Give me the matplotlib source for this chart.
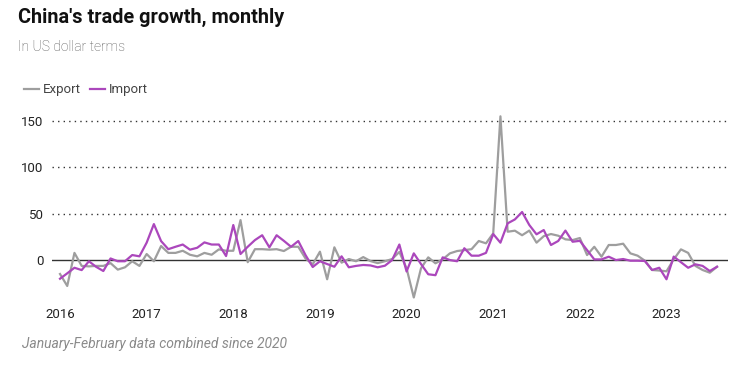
import matplotlib
matplotlib.use("Agg")
import matplotlib.pyplot as plt
import numpy as np

plt.rcParams['font.family'] = ['Roboto', 'DejaVu Sans']

# Monthly data, Jan 2016 - Aug 2023 (year-on-year growth, %)
years = ["2016", "2017", "2018", "2019", "2020", "2021", "2022", "2023"]
export = [
    -14.7, -27.6, 8.0, -6.0, -6.5, -6.0, -6.0, -3.0, -10.0, -7.5, -1.0, -6.0,   # 2016
    6.8, -1.0, 15.4, 8.0, 8.0, 10.3, 6.0, 4.3, 8.0, 6.0, 11.8, 10.3,           # 2017
    10.3, 43.3, -2.0, 12.0, 12.0, 11.5, 12.0, 10.0, 14.6, 14.6, 2.0, -4.3,     # 2018
    9.3, -20.4, 14.0, -2.5, 1.4, -1.0, 3.5, -0.8, -3.0, -1.0, 1.4, 9.0,        # 2019
    -8.6, -40.0, -8.6, 3.2, -3.2, 1.0, 7.5, 10.0, 11.0, 12.0, 20.8, 18.3,      # 2020
    29.0, 155.0, 30.8, 31.9, 27.0, 32.0, 19.0, 26.0, 28.3, 26.5, 22.6, 21.8,   # 2021
    24.0, 5.7, 14.6, 3.9, 16.5, 16.5, 17.9, 7.5, 5.0, -0.4, -10.4, -11.0,      # 2022
    -11.8, 1.0, 11.8, 8.0, -6.0, -10.4, -13.3, -6.9,                           # 2023
]
imports = [
    -19.8, -14.0, -8.0, -10.5, -1.0, -7.0, -11.5, 2.0, -1.0, -1.0, 5.7, 4.3,   # 2016
    19.0, 39.0, 20.7, 12.0, 14.6, 17.0, 11.5, 13.5, 19.3, 17.0, 17.0, 4.6,     # 2017
    38.0, 6.8, 14.6, 21.8, 27.0, 14.0, 27.0, 21.0, 14.6, 20.8, 5.7, -7.2,      # 2018
    -1.0, -4.0, -6.9, 4.3, -7.5, -6.0, -5.0, -5.5, -7.5, -5.8, 0.3, 17.0,      # 2019
    -12.0, 7.5, -4.0, -15.0, -16.0, 3.2, 0.3, -1.0, 13.0, 5.0, 5.0, 8.0,       # 2020
    28.3, 19.0, 39.8, 44.0, 52.0, 38.0, 28.0, 32.6, 16.5, 20.8, 32.0, 20.0,    # 2021
    21.0, 11.0, 1.0, 1.0, 3.9, 0.3, 1.4, -0.4, -0.4, -0.7, -10.4, -8.0,        # 2022
    -20.4, 4.0, -2.0, -8.0, -4.3, -6.0, -11.5, -6.9,                           # 2023
]
y_ticks = [0, 50, 100, 150]

W, H = 747, 371
fig = plt.figure(figsize=(W / 100, H / 100), dpi=100)
fig.patch.set_facecolor("white")

def fx(px):
    return px / W

def fy(py):
    return 1 - py / H

# axes: x 52..728 px, y 110..300 px
ax = fig.add_axes([fx(52), fy(300), fx(728) - fx(52), fy(110) - fy(300)])
ax.set_facecolor("white")

months = np.arange(len(export))
ax.plot(months, export, color="#9e9e9e", lw=1.6, solid_joinstyle="round", zorder=3)
ax.plot(months, imports, color="#ab47bc", lw=1.6, solid_joinstyle="round", zorder=4)

ax.set_xlim(-1.11, 92.52)
ax.set_ylim(-42.7, 161.8)

for v in y_ticks:
    if v == 0:
        ax.axhline(0, color="#333333", lw=1.0, zorder=2)
    else:
        ax.axhline(v, color="#333333", lw=1.0, linestyle=(0, (1, 3)), zorder=1)

ax.set_yticks(y_ticks)
ax.set_yticklabels([str(v) for v in y_ticks])
ax.set_xticks(np.arange(0, len(export), 12)[:len(years)])
ax.set_xticklabels(years)
ax.tick_params(axis="both", length=0, labelsize=9.5, labelcolor="#222222")
ax.tick_params(axis="y", pad=6)
ax.tick_params(axis="x", pad=6)
for s in ax.spines.values():
    s.set_visible(False)

# Title and texts
fig.text(fx(18), fy(17), "China's trade growth, monthly", fontsize=14.3,
         fontweight="bold", color="#111111", va="center", ha="left")
fig.text(fx(18), fy(47), "In US dollar terms", fontsize=10, fontweight="light",
         color="#555555", va="center", ha="left")

# Legend
ly = fy(89)
fig.add_artist(plt.Line2D([fx(24), fx(39)], [ly, ly], color="#9e9e9e", lw=1.6))
fig.text(fx(43), ly, "Export", fontsize=9.5, color="#444444", va="center", ha="left")
fig.add_artist(plt.Line2D([fx(90), fx(105)], [ly, ly], color="#ab47bc", lw=1.6))
fig.text(fx(109), ly, "Import", fontsize=9.5, color="#444444", va="center", ha="left")

fig.text(fx(22), fy(344), "January-February data combined since 2020", fontsize=10,
         fontstyle="italic", color="#8a8a8a", va="center", ha="left")

fig.savefig("out.png", dpi=100, facecolor="white")
